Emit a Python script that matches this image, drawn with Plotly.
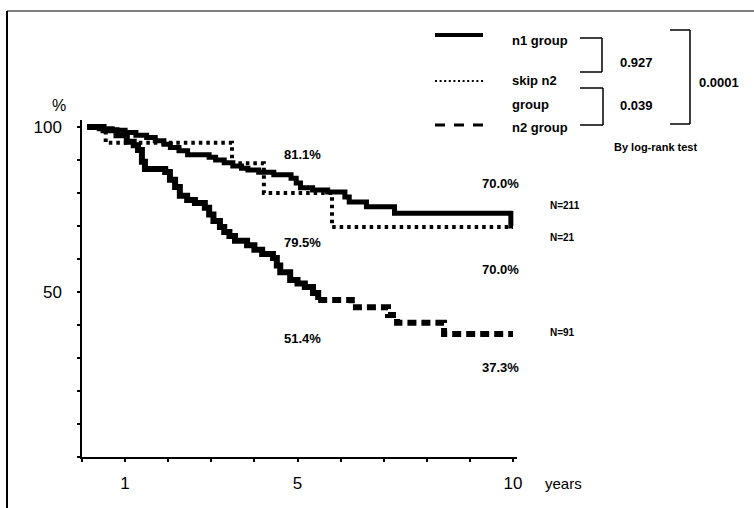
import plotly.graph_objects as go

# ---------------- data ----------------
n1_t = [0.12, 0.4, 0.7, 1.0, 1.25, 1.5, 1.7, 1.9, 2.05, 2.25, 2.45, 2.95, 3.1, 3.3, 3.5,
        3.7, 3.85, 4.1, 4.45, 4.85, 4.97, 5.07, 5.35, 5.7, 6.1, 6.2, 6.6, 7.25, 9.95, 10.0]
n1_s = [100, 99.5, 99.0, 98.3, 97.5, 96.8, 95.8, 94.8, 93.8, 92.8, 91.6, 90.8, 90.0, 89.2, 88.2,
        87.5, 87.0, 86.3, 85.5, 84.5, 83.0, 81.6, 80.9, 80.3, 78.8, 77.3, 75.8, 73.9, 70.0, 70.0]

skip_t = [0.12, 0.55, 3.48, 4.22, 5.8, 10.0]
skip_s = [100, 95.2, 89.0, 80.0, 69.7, 69.7]

n2_t = [0.12, 0.5, 0.8, 1.04, 1.2, 1.3, 1.39, 1.46, 1.93, 2.04, 2.16, 2.27, 2.44, 2.62, 2.85,
        2.95, 3.05, 3.2, 3.3, 3.42, 3.55, 3.83, 4.0, 4.18, 4.43, 4.52, 4.6, 4.83, 5.0, 5.17,
        5.36, 5.48, 6.26, 7.1, 7.31, 8.4, 10.0]
n2_s = [100, 99.0, 97.5, 95.5, 94.5, 93.0, 89.5, 87.3, 86.4, 84.0, 81.8, 79.2, 77.9, 77.0, 75.5,
        73.5, 71.5, 69.7, 68.2, 67.0, 65.5, 64.2, 62.8, 61.5, 60.3, 58.0, 56.0, 53.6, 52.6, 51.5,
        49.7, 47.6, 45.4, 43.0, 40.7, 37.3, 37.3]

x_tickvals = list(range(0, 11))
x_ticktext = ["", "1", "", "", "", "5", "", "", "", "", "10"]
y_tickvals = list(range(0, 101, 10))
y_ticktext = ["", "", "", "", "", "50", "", "", "", "", "100"]

pct_labels = ["81.1%", "79.5%", "70.0%", "70.0%", "51.4%", "37.3%"]
n_labels = ["N=211", "N=21", "N=91"]
group_names = ["n1 group", "skip n2", "group", "n2 group"]
p_values = ["0.927", "0.039", "0.0001"]

# ---------------- layout geometry ----------------
W, H = 754, 508
L, R, T, B = 82, 237, 120, 51
PW, PH = W - L - R, H - T - B
X_PX_PER_YR = 43.1
Y_PX_PER_PCT = 3.3
FONT = "Liberation Sans, Arial, sans-serif"


def xp(px):
    return (px - L) / PW


def yp(py):
    return (H - B - py) / PH


SPLIT_T = 5.48  # n2 drawn solid (dense steps) up to here, dashed afterwards
k = n2_t.index(SPLIT_T)

fig = go.Figure()
fig.add_trace(go.Scatter(x=skip_t, y=skip_s, mode="lines", line_shape="hv",
                         line=dict(color="black", width=4, dash="3.5px,4px")))
fig.add_trace(go.Scatter(x=n2_t[:k + 1], y=n2_s[:k + 1], mode="lines", line_shape="hv",
                         line=dict(color="black", width=6)))
fig.add_trace(go.Scatter(x=n2_t[k:], y=n2_s[k:], mode="lines", line_shape="hv",
                         line=dict(color="black", width=6, dash="9px,5px")))
fig.add_trace(go.Scatter(x=n1_t, y=n1_s, mode="lines", line_shape="hv",
                         line=dict(color="black", width=5)))

shapes = []
annotations = []


def line(x0, y0, x1, y1, w=1.5, dash=None):
    d = dict(type="line", xref="paper", yref="paper", x0=xp(x0), y0=yp(y0), x1=xp(x1), y1=yp(y1),
             line=dict(color="black", width=w))
    if dash:
        d["line"]["dash"] = dash
    shapes.append(d)


def text(s, px, py, size=14, xanchor="center", bold=True):
    annotations.append(dict(text=("<b>%s</b>" % s) if bold else s, xref="paper", yref="paper",
                            x=xp(px), y=yp(py),
                            xanchor=xanchor, yanchor="middle", showarrow=False,
                            font=dict(family=FONT, size=size, color="black")))


# frame (left and top edges of the scanned box)
line(7, 11, 7, 508, w=2)
line(7, 11, 754, 11, w=1.2)

# legend samples
line(435, 35, 483, 35, w=4)
line(435, 81, 483, 81, w=2, dash="2px,2.6px")
line(435, 125, 483, 125, w=3, dash="10px,9px")
text(group_names[0], 510, 40, 13, "left")
text(group_names[1], 510, 81, 13, "left")
text(group_names[2], 510, 105, 13, "left")
text(group_names[3], 510, 127, 13, "left")

# brackets
for (xa, xb, ya, yb) in [(580, 602, 38, 72), (580, 603, 88, 125), (670, 690, 30, 124)]:
    line(xa, ya, xb, ya)
    line(xb, ya, xb, yb)
    line(xa, yb, xb, yb)
text(p_values[0], 618, 62, 13, "left")
text(p_values[1], 618, 106, 13, "left")
text(p_values[2], 697, 82, 13, "left")
text("By log-rank test", 612, 147, 11, "left")

# curve annotations
for s, (px, py) in zip(pct_labels, [(302, 154), (302, 242), (500, 183), (500, 269), (302, 338), (500, 367)]):
    text(s, px, py, 13)
for s, (px, py) in zip(n_labels, [(548, 205), (548, 237), (548, 332)]):
    text(s, px, py, 10, "left")

# axis extras
text("%", 59, 106, 16, bold=False)
text("years", 543, 483, 15, "left", bold=False)

fig.update_layout(
    width=W, height=H,
    margin=dict(l=L, r=R, t=T, b=B, pad=0),
    paper_bgcolor="white", plot_bgcolor="white",
    showlegend=False,
    shapes=shapes, annotations=annotations,
    font=dict(family=FONT, color="black"),
    xaxis=dict(range=[0, PW / X_PX_PER_YR], showgrid=False, zeroline=False,
               showline=True, linecolor="black", linewidth=1.5,
               ticks="outside", ticklen=3, tickwidth=1.5, tickcolor="black",
               tickvals=x_tickvals, ticktext=x_ticktext, ticklabelstandoff=7,
               tickfont=dict(family=FONT, size=17, color="black")),
    yaxis=dict(range=[0, PH / Y_PX_PER_PCT], showgrid=False, zeroline=False,
               showline=True, linecolor="black", linewidth=1.5,
               ticks="outside", ticklen=3, tickwidth=1.5, tickcolor="black",
               tickvals=y_tickvals, ticktext=y_ticktext, ticklabelstandoff=12,
               tickfont=dict(family=FONT, size=17, color="black")),
)

fig.write_html("out.html")
